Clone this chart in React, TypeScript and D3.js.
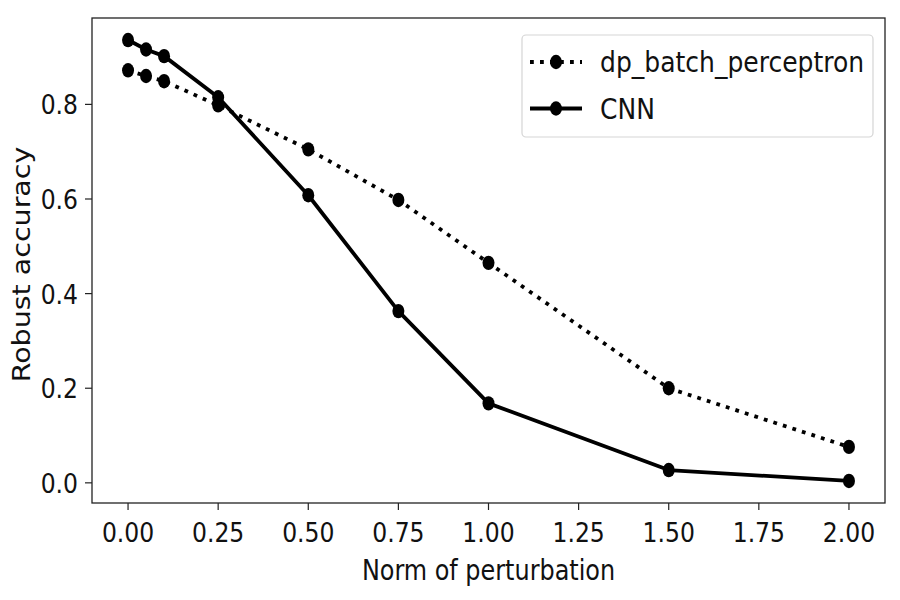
import React, { useEffect, useRef } from 'react';
import * as d3 from 'd3';

const norms = [0, 0.05, 0.1, 0.25, 0.5, 0.75, 1.0, 1.5, 2.0];
const dpBatchPerceptron = [0.872, 0.86, 0.849, 0.798, 0.705, 0.598, 0.465, 0.2, 0.076];
const cnn = [0.936, 0.916, 0.902, 0.815, 0.608, 0.363, 0.168, 0.027, 0.004];
const xTicks = [0, 0.25, 0.5, 0.75, 1.0, 1.25, 1.5, 1.75, 2.0];
const yTicks = [0, 0.2, 0.4, 0.6, 0.8];
const seriesNames = ['dp_batch_perceptron', 'CNN'];

const App: React.FC = () => {
  const svgRef = useRef<SVGSVGElement>(null);

  useEffect(() => {
    if (!svgRef.current) return;
    const width = 900;
    const height = 600;
    const left = 92, right = 885, top = 18, bottom = 503;
    const font = 'DejaVu Sans, sans-serif';
    const squeeze = 0.87; // the reference is narrowed horizontally

    const svg = d3.select(svgRef.current)
      .attr('width', width)
      .attr('height', height)
      .html('');

    svg.append('rect').attr('width', width).attr('height', height).attr('fill', '#fff');

    const x = d3.scaleLinear().domain([-0.1, 2.1]).range([left, right]);
    const y = d3.scaleLinear().domain([-0.0426, 0.9826]).range([bottom, top]);

    const addText = (px: number, py: number, txt: string, anchor: string, size = 27) =>
      svg.append('text')
        .attr('transform', `translate(${px},${py}) scale(${squeeze},1)`)
        .attr('text-anchor', anchor)
        .attr('font-family', font)
        .attr('font-size', size)
        .attr('fill', '#111')
        .text(txt);

    // ticks
    xTicks.forEach((t) => {
      svg.append('line')
        .attr('x1', x(t)).attr('x2', x(t))
        .attr('y1', bottom).attr('y2', bottom + 7)
        .attr('stroke', '#222').attr('stroke-width', 1.2);
      addText(x(t), 542, d3.format('.2f')(t), 'middle');
    });
    yTicks.forEach((t) => {
      svg.append('line')
        .attr('x1', left - 7).attr('x2', left)
        .attr('y1', y(t)).attr('y2', y(t))
        .attr('stroke', '#222').attr('stroke-width', 1.2);
      addText(78, y(t) + 10, d3.format('.1f')(t), 'end');
    });

    addText((left + right) / 2, 580, 'Norm of perturbation', 'middle', 27.5);

    svg.append('text')
      .attr('transform', `translate(30,${(top + bottom) / 2 + 4}) scale(${squeeze},1) rotate(-90)`)
      .attr('text-anchor', 'middle')
      .attr('font-family', font)
      .attr('font-size', 28.5)
      .attr('fill', '#111')
      .text('Robust accuracy');

    const line = d3.line<number>()
      .x((_, i) => x(norms[i]))
      .y((d) => y(d));

    const drawSeries = (vals: number[], dotted: boolean) => {
      svg.append('path')
        .datum(vals)
        .attr('d', line)
        .attr('fill', 'none')
        .attr('stroke', '#000')
        .attr('stroke-width', 3.8)
        .attr('stroke-dasharray', dotted ? '3.8 6.2' : null)
        .attr('stroke-linejoin', 'round');
      svg.append('g')
        .selectAll('ellipse')
        .data(vals)
        .join('ellipse')
        .attr('cx', (_, i) => x(norms[i]))
        .attr('cy', (d) => y(d))
        .attr('rx', 6)
        .attr('ry', 7.2)
        .attr('fill', '#000');
    };

    drawSeries(dpBatchPerceptron, true);
    drawSeries(cnn, false);

    // frame
    svg.append('rect')
      .attr('x', left).attr('y', top)
      .attr('width', right - left).attr('height', bottom - top)
      .attr('fill', 'none').attr('stroke', '#222').attr('stroke-width', 1.3);

    // legend
    svg.append('rect')
      .attr('x', 522).attr('y', 35)
      .attr('width', 351).attr('height', 102)
      .attr('rx', 4)
      .attr('fill', '#fff').attr('fill-opacity', 0.85)
      .attr('stroke', '#d5d5d5').attr('stroke-width', 1.2);

    seriesNames.forEach((name, i) => {
      const cy = 62 + i * 46.5;
      svg.append('line')
        .attr('x1', 530).attr('x2', 582)
        .attr('y1', cy).attr('y2', cy)
        .attr('stroke', '#000').attr('stroke-width', 3.8)
        .attr('stroke-dasharray', i === 0 ? '3.8 6.2' : null);
      svg.append('ellipse')
        .attr('cx', 556).attr('cy', cy)
        .attr('rx', 6).attr('ry', 7.2)
        .attr('fill', '#000');
      svg.append('text')
        .attr('transform', `translate(600,${cy + 10}) scale(0.91,1)`)
        .attr('font-family', font)
        .attr('font-size', 27.5)
        .attr('fill', '#111')
        .text(name);
    });
  }, []);

  return (
    <div style={{ position: 'fixed', left: 0, top: 0 }}>
      <svg ref={svgRef}></svg>
    </div>
  );
};

export default App;
